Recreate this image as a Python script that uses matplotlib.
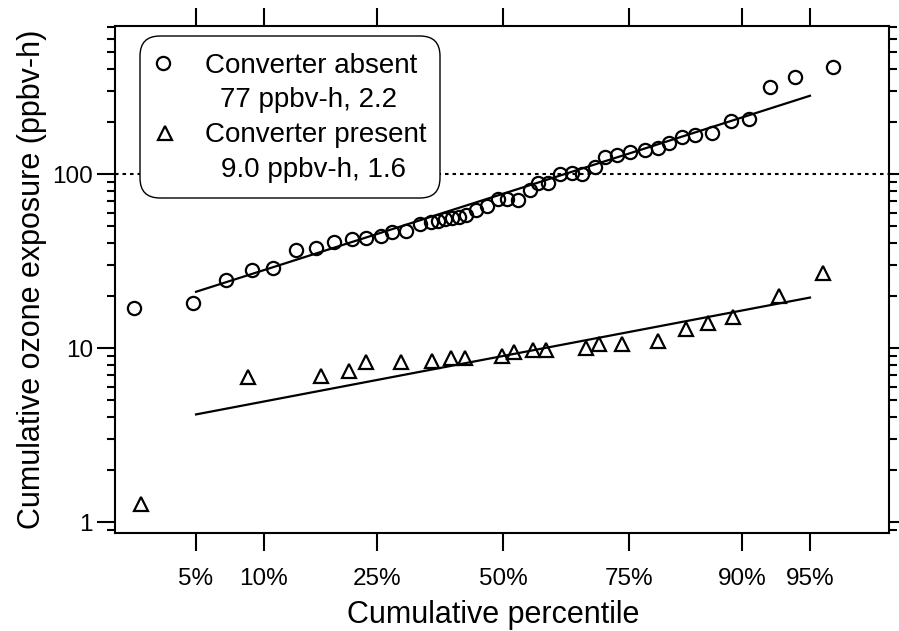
"""
Lognormal probability plot of cumulative ozone exposure,
with and without the converter.
"""

from statistics import NormalDist

import numpy as np
import matplotlib
matplotlib.use("Agg")
import matplotlib.pyplot as plt
from matplotlib.patches import FancyBboxPatch
from matplotlib.ticker import FixedLocator, FixedFormatter, LogLocator, NullLocator, NullFormatter

plt.rcParams['font.family'] = ['Liberation Sans', 'DejaVu Sans']

# Data (cumulative percentile in %, exposure in ppbv-h)
absent_pct = [2.40, 4.84, 6.89, 8.93, 10.88, 13.37, 15.82, 18.25, 20.93, 23.15,
              25.65, 27.59, 30.15, 32.82, 34.97, 36.39, 37.79, 39.24, 40.67, 42.15,
              44.24, 46.57, 48.92, 50.85, 53.19, 55.76, 57.45, 59.52, 62.02, 64.43,
              66.42, 68.91, 70.78, 72.94, 75.20, 77.67, 79.70, 81.33, 83.13, 84.82,
              86.86, 88.91, 90.62, 92.38, 94.12, 96.15]
absent_val = [17.0, 18.1, 24.6, 28.1, 28.8, 36.6, 37.6, 40.7, 42.3, 42.9,
              44.0, 46.4, 47.0, 51.6, 53.0, 53.7, 55.1, 55.9, 56.6, 58.1,
              62.1, 65.5, 71.8, 71.8, 70.7, 80.9, 88.8, 88.8, 100.0, 101.4,
              100.5, 109.7, 125.2, 128.6, 133.8, 137.3, 141.0, 150.6, 163.2, 167.6,
              172.2, 201.8, 207.2, 316.0, 361.0, 412.0]

present_pct = [2.62, 8.59, 16.47, 20.47, 23.15, 29.22, 35.16, 39.01, 41.92, 49.79,
               52.34, 56.39, 59.11, 67.18, 69.64, 73.82, 79.70, 83.67, 86.41, 89.12,
               93.04, 95.68]
present_val = [1.27, 6.82, 6.90, 7.38, 8.31, 8.31, 8.42, 8.76, 8.76, 9.00,
               9.48, 9.75, 9.75, 10.0, 10.5, 10.5, 11.0, 12.9, 13.9, 15.1,
               19.9, 27.0]

# Lognormal fits: geometric mean, geometric standard deviation
absent_gm, absent_gsd = 77.0, 2.2
present_gm, present_gsd = 9.0, 1.6
fit_range = [5, 95]

tick_pct = [5, 10, 25, 50, 75, 90, 95]
tick_lbl = ['5%', '10%', '25%', '50%', '75%', '90%', '95%']
ytick_vals = [1, 10, 100]
ytick_lbl = ['1', '10', '100']
reference_level = 100

nd = NormalDist()
_probit = np.vectorize(nd.inv_cdf, otypes=[float])
_cdf = np.vectorize(nd.cdf, otypes=[float])


def fwd(p):
    p = np.clip(np.asarray(p, dtype=float) / 100.0, 1e-9, 1 - 1e-9)
    return _probit(p)


def inv(z):
    return _cdf(np.asarray(z, dtype=float)) * 100.0


def fit_line(gm, gsd, pct):
    return gm * gsd ** fwd(pct)


fig = plt.figure(figsize=(8.99, 6.31), dpi=100)
W, H = 899, 631
ax = fig.add_axes([115 / W, 98 / H, 774 / W, 507 / H])

ax.set_xscale('function', functions=(fwd, inv))
ax.set_yscale('log')

ax.axhline(reference_level, color='black', lw=1.5, linestyle=(0, (1.7, 1.9)), zorder=1)

ax.plot(fit_range, fit_line(absent_gm, absent_gsd, fit_range), color='black', lw=1.6, zorder=2)
ax.plot(fit_range, fit_line(present_gm, present_gsd, fit_range), color='black', lw=1.6, zorder=2)

ax.plot(absent_pct, absent_val, linestyle='none', marker='o', ms=9.5, mew=1.6,
        mfc='none', mec='black', zorder=3, clip_on=False)
ax.plot(present_pct, present_val, linestyle='none', marker='^', ms=9.5, mew=1.6,
        mfc='none', mec='black', zorder=3, clip_on=False)

ax.set_xlim(1.88, 98.07)
ax.set_ylim(0.865, 709)

ax.xaxis.set_major_locator(FixedLocator(tick_pct))
ax.xaxis.set_major_formatter(FixedFormatter(tick_lbl))
ax.xaxis.set_minor_locator(NullLocator())
ax.yaxis.set_major_locator(FixedLocator(ytick_vals))
ax.yaxis.set_major_formatter(FixedFormatter(ytick_lbl))
ax.yaxis.set_minor_locator(LogLocator(base=10, subs=range(2, 10)))
ax.yaxis.set_minor_formatter(NullFormatter())

for s in ax.spines.values():
    s.set_linewidth(1.5)

ax.tick_params(axis='both', which='major', direction='out', length=13, width=1.5,
               labelsize=17.5, top=True, right=True)
ax.tick_params(axis='y', which='minor', direction='out', length=6, width=1.5,
               left=True, right=True)
ax.tick_params(axis='x', which='major', pad=12.5)
ax.tick_params(axis='y', which='major', pad=3)

ax.set_xlabel('Cumulative percentile', fontsize=22)
ax.xaxis.label.set_va('baseline')
ax.xaxis.set_label_coords(0.488, (533 - 623) / 507)
ax.set_ylabel('Cumulative ozone exposure (ppbv-h)', fontsize=22)
ax.yaxis.label.set_va('baseline')
ax.yaxis.set_label_coords((40 - 115) / 774, 0.5)

# Legend box, drawn by hand so markers line up with the first text line
aw, ah = 774, 507
x0, x1 = (140 - 115) / aw, (440 - 115) / aw
y0, y1 = (533 - 198) / ah, (533 - 36) / ah
r = 20 / aw
box = FancyBboxPatch((x0, y0), x1 - x0, y1 - y0, transform=ax.transAxes,
                     boxstyle=f"round,pad=0,rounding_size={r}",
                     mutation_aspect=aw / ah, facecolor='white',
                     edgecolor='black', lw=1.0, zorder=5)
ax.add_patch(box)

fs = 20
ax.plot([(163 - 115) / aw], [(533 - 63) / ah], marker='o', ms=9.5, mew=1.6,
        mfc='none', mec='black', transform=ax.transAxes, zorder=6, clip_on=False)
ax.plot([(165 - 115) / aw], [(533 - 133) / ah], marker='^', ms=9.5, mew=1.6,
        mfc='none', mec='black', transform=ax.transAxes, zorder=6, clip_on=False)
ax.text((205 - 115) / aw, (533 - 73) / ah, 'Converter absent', fontsize=fs,
        va='baseline', transform=ax.transAxes, zorder=6)
ax.text((220 - 115) / aw, (533 - 107) / ah, '77 ppbv-h, 2.2', fontsize=fs,
        va='baseline', transform=ax.transAxes, zorder=6)
ax.text((205 - 115) / aw, (533 - 142) / ah, 'Converter present', fontsize=fs,
        va='baseline', transform=ax.transAxes, zorder=6)
ax.text((221 - 115) / aw, (533 - 177) / ah, '9.0 ppbv-h, 1.6', fontsize=fs,
        va='baseline', transform=ax.transAxes, zorder=6)

fig.savefig('out.png', dpi=100, facecolor='white')
